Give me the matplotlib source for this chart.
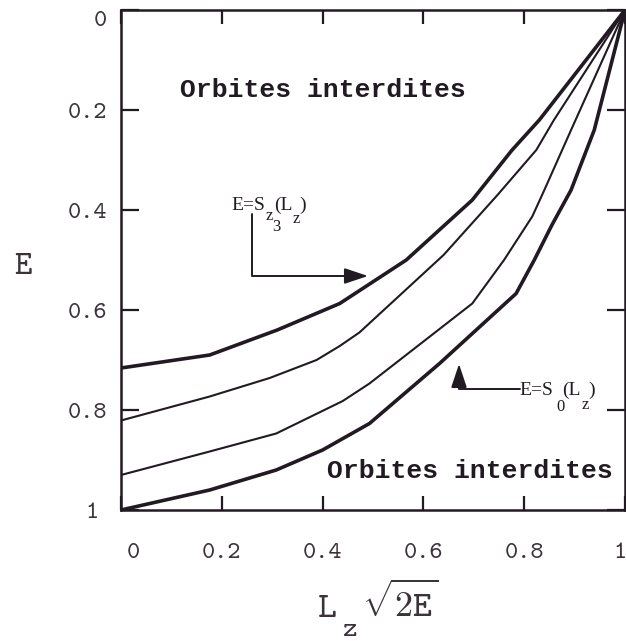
import matplotlib
matplotlib.use("Agg")
import matplotlib.pyplot as plt
import matplotlib.transforms as mtransforms

# ---- data ----
lz_s3 = [0, 0.176, 0.31, 0.434, 0.566, 0.697, 0.776, 0.83, 1.0]
e_s3 = [0.716, 0.69, 0.64, 0.587, 0.5, 0.38, 0.28, 0.22, 0.0]

lz_s2 = [0, 0.176, 0.295, 0.388, 0.434, 0.473, 0.64, 0.747, 0.824, 0.859, 1.0]
e_s2 = [0.821, 0.773, 0.736, 0.70, 0.672, 0.645, 0.49, 0.37, 0.28, 0.22, 0.0]

lz_s1 = [0, 0.176, 0.308, 0.44, 0.493, 0.697, 0.76, 0.816, 0.84, 0.893, 1.0]
e_s1 = [0.93, 0.883, 0.847, 0.782, 0.747, 0.587, 0.5, 0.413, 0.36, 0.24, 0.0]

lz_s0 = [0, 0.176, 0.308, 0.4, 0.493, 0.632, 0.784, 0.82, 0.855, 0.893, 0.939, 1.0]
e_s0 = [1.0, 0.96, 0.92, 0.88, 0.827, 0.707, 0.567, 0.5, 0.43, 0.36, 0.24, 0.0]

xticks = [0, 0.2, 0.4, 0.6, 0.8, 1]
xticklabels = ["0", "0.2", "0.4", "0.6", "0.8", "1"]
yticks = [0, 0.2, 0.4, 0.6, 0.8, 1]
yticklabels = ["0", "0.2", "0.4", "0.6", "0.8", "1"]

region_label = "Orbites interdites"

# ---- style ----
INK = "#221a22"
GREY = "#3a333a"
TT = "cmtt10"
MONO_B = "Liberation Mono"
SERIF = "Liberation Serif"
plt.rcParams["mathtext.fontset"] = "cm"

W, H = 626, 641
fig = plt.figure(figsize=(W / 100, H / 100), dpi=100)
x0, x1, y0, y1 = 121, 625, 10, 510
ax = fig.add_axes([x0 / W, 1 - y1 / H, (x1 - x0) / W, (y1 - y0) / H])

ax.plot(lz_s3, e_s3, color=INK, lw=2.6, solid_capstyle="round", solid_joinstyle="round")
ax.plot(lz_s2, e_s2, color=INK, lw=1.5, solid_joinstyle="round")
ax.plot(lz_s1, e_s1, color=INK, lw=1.5, solid_joinstyle="round")
ax.plot(lz_s0, e_s0, color=INK, lw=2.6, solid_capstyle="round", solid_joinstyle="round")

ax.set_xlim(0, 1)
ax.set_ylim(1, 0)

for sp in ax.spines.values():
    sp.set_color(INK)
    sp.set_linewidth(1.8)

ax.set_xticks(xticks)
ax.set_xticklabels(xticklabels, fontfamily=TT, fontsize=18, color=GREY)
ax.set_yticks(yticks)
ax.set_yticklabels(yticklabels, fontfamily=TT, fontsize=18, color=GREY)
ax.tick_params(axis="both", direction="in", color=INK, width=1.6,
               top=True, right=True)
ax.tick_params(axis="y", length=13, pad=10)
ax.tick_params(axis="x", length=10, pad=24)

# shift a few tick labels as in the reference
xl = ax.get_xticklabels()
xl[0].set_transform(xl[0].get_transform() + mtransforms.ScaledTranslation(12 / 100, 0, fig.dpi_scale_trans))
xl[-1].set_transform(xl[-1].get_transform() + mtransforms.ScaledTranslation(-5 / 100, 0, fig.dpi_scale_trans))
yl = ax.get_yticklabels()
yl[0].set_transform(yl[0].get_transform() + mtransforms.ScaledTranslation(0, -8 / 100, fig.dpi_scale_trans))
yl[-1].set_transform(yl[-1].get_transform() + mtransforms.ScaledTranslation(-9 / 100, 0, fig.dpi_scale_trans))


def ax_xy(px, py):
    return ((px - x0) / (x1 - x0), 1 - (py - y0) / (y1 - y0))


# axis labels
ax.text(*ax_xy(23, 268), "E", transform=ax.transAxes, fontfamily=TT,
        fontsize=24, color=GREY, ha="center", va="center")
ax.text(*ax_xy(327, 617), "L", transform=ax.transAxes, fontfamily=TT,
        fontsize=26, color=GREY, ha="center", va="baseline")
ax.text(*ax_xy(349, 636), "z", transform=ax.transAxes, fontfamily=TT,
        fontsize=20, color=GREY, ha="center", va="baseline")
ax.text(*ax_xy(400, 617), r"$\sqrt{\mathtt{2E}}$", transform=ax.transAxes,
        fontsize=26, color=GREY, ha="center", va="baseline")

# region labels
ax.text(*ax_xy(323, 90), region_label, transform=ax.transAxes, fontfamily=MONO_B,
        fontweight="bold", fontsize=19, color=INK, ha="center", va="center")
ax.text(*ax_xy(470, 471), region_label, transform=ax.transAxes, fontfamily=MONO_B,
        fontweight="bold", fontsize=19, color=INK, ha="center", va="center")

# annotation E=S_{z3}(L_z)
tkw = dict(transform=ax.transAxes, fontfamily=SERIF, color=INK, va="baseline")
ax.text(*ax_xy(231, 210), "E=S", fontsize=14, **tkw)
ax.text(*ax_xy(266, 220), "z", fontsize=12, **tkw)
ax.text(*ax_xy(272, 231), "3", fontsize=12, **tkw)
ax.text(*ax_xy(274, 210), "(L", fontsize=14, **tkw)
ax.text(*ax_xy(293, 223), "z", fontsize=12, **tkw)
ax.text(*ax_xy(299, 210), ")", fontsize=14, **tkw)

# annotation E=S_0(L_z)
ax.text(*ax_xy(519, 395), "E=S", fontsize=14, **tkw)
ax.text(*ax_xy(556, 411), "0", fontsize=12, **tkw)
ax.text(*ax_xy(562, 395), "(L", fontsize=14, **tkw)
ax.text(*ax_xy(582, 409), "z", fontsize=12, **tkw)
ax.text(*ax_xy(588, 395), ")", fontsize=14, **tkw)

akw = dict(arrowstyle="-|>,head_length=0.9,head_width=0.3", color=INK,
           lw=1.4, shrinkA=0, shrinkB=0, mutation_scale=16)
ax.annotate("", xy=ax_xy(368, 276), xytext=ax_xy(252, 214),
            xycoords="axes fraction", textcoords="axes fraction",
            arrowprops=dict(connectionstyle="angle,angleA=90,angleB=0,rad=0", **akw))
ax.annotate("", xy=ax_xy(459, 364), xytext=ax_xy(520, 389),
            xycoords="axes fraction", textcoords="axes fraction",
            arrowprops=dict(connectionstyle="angle,angleA=0,angleB=90,rad=0", **akw))

fig.savefig("out.png", dpi=100)
